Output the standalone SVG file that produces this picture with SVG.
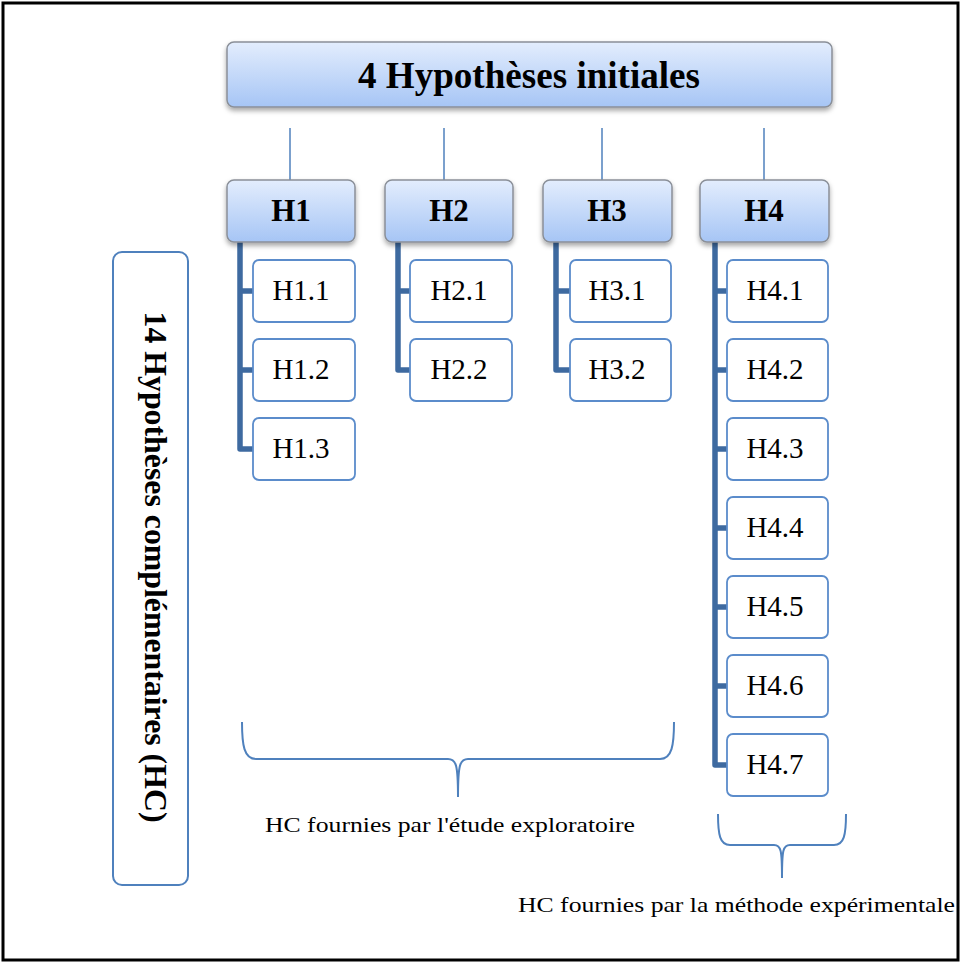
<svg xmlns="http://www.w3.org/2000/svg" width="962" height="964" viewBox="0 0 962 964">
<defs>
<linearGradient id="g" x1="0" y1="0" x2="0" y2="1">
<stop offset="0" stop-color="#e3edfd"/>
<stop offset="1" stop-color="#a6c5f5"/>
</linearGradient>
<filter id="sh" x="-10%" y="-20%" width="120%" height="150%">
<feDropShadow dx="0" dy="3" stdDeviation="2.5" flood-color="#000" flood-opacity="0.35"/>
</filter>
<style>
.hd{fill:url(#g);stroke:#8a8f98;stroke-width:1.5;filter:url(#sh)}
.ch{fill:#fff;stroke:#5b8ccb;stroke-width:1.8}
.tb{font-weight:bold;fill:#000;text-anchor:middle}
.tc{fill:#000;text-anchor:middle;font-size:29px}
.tn{fill:#000;font-size:22px}
.thin{stroke:#4f81bd;stroke-width:1.5;fill:none}
.thick{stroke:#3e6aa0;stroke-width:5.5;fill:none;stroke-linejoin:round}
.br{stroke:#4f81bd;stroke-width:2;fill:none}
</style>
</defs>
<rect x="3" y="3" width="955" height="957" fill="#fff" stroke="#000" stroke-width="3"/>

<g id="connectors">
<line class="thin" x1="290" y1="128" x2="290" y2="180"/>
<line class="thin" x1="444" y1="128" x2="444" y2="180"/>
<line class="thin" x1="602" y1="128" x2="602" y2="180"/>
<line class="thin" x1="764" y1="128" x2="764" y2="180"/>
<path class="thick" d="M240 242 V449 H253 M240 291 H253 M240 370 H253"/>
<path class="thick" d="M398 242 V370 H410 M398 291 H410"/>
<path class="thick" d="M556 242 V370 H570 M556 291 H570"/>
<path class="thick" d="M715 242 V765 H727 M715 291 H727 M715 370 H727 M715 449 H727 M715 528 H727 M715 607 H727 M715 686 H727"/>
</g>

<g font-family="Liberation Serif, Times New Roman, serif">
<g id="top">
<rect class="hd" x="227" y="42" width="605" height="65" rx="7"/>
<text class="tb" x="529" y="88" font-size="38" textLength="342" lengthAdjust="spacingAndGlyphs">4 Hypothèses initiales</text>
</g>

<g id="H1"><rect class="hd" x="227" y="180" width="128" height="62" rx="7"/><text class="tb" x="291" y="221" font-size="31">H1</text></g>
<g id="H2"><rect class="hd" x="385" y="180" width="128" height="62" rx="7"/><text class="tb" x="449" y="221" font-size="31">H2</text></g>
<g id="H3"><rect class="hd" x="543" y="180" width="129" height="62" rx="7"/><text class="tb" x="607" y="221" font-size="31">H3</text></g>
<g id="H4"><rect class="hd" x="700" y="180" width="129" height="62" rx="7"/><text class="tb" x="764" y="221" font-size="31">H4</text></g>

<g id="H1.1"><rect class="ch" x="253" y="260" width="102" height="62" rx="6"/><text class="tc" x="301" y="300">H1.1</text></g>
<g id="H1.2"><rect class="ch" x="253" y="339" width="102" height="62" rx="6"/><text class="tc" x="301" y="379">H1.2</text></g>
<g id="H1.3"><rect class="ch" x="253" y="418" width="102" height="62" rx="6"/><text class="tc" x="301" y="458">H1.3</text></g>

<g id="H2.1"><rect class="ch" x="410" y="260" width="102" height="62" rx="6"/><text class="tc" x="459" y="300">H2.1</text></g>
<g id="H2.2"><rect class="ch" x="410" y="339" width="102" height="62" rx="6"/><text class="tc" x="459" y="379">H2.2</text></g>

<g id="H3.1"><rect class="ch" x="570" y="260" width="101" height="62" rx="6"/><text class="tc" x="617" y="300">H3.1</text></g>
<g id="H3.2"><rect class="ch" x="570" y="339" width="101" height="62" rx="6"/><text class="tc" x="617" y="379">H3.2</text></g>

<g id="H4.1"><rect class="ch" x="727" y="260" width="101" height="62" rx="6"/><text class="tc" x="775" y="300">H4.1</text></g>
<g id="H4.2"><rect class="ch" x="727" y="339" width="101" height="62" rx="6"/><text class="tc" x="775" y="379">H4.2</text></g>
<g id="H4.3"><rect class="ch" x="727" y="418" width="101" height="62" rx="6"/><text class="tc" x="775" y="458">H4.3</text></g>
<g id="H4.4"><rect class="ch" x="727" y="497" width="101" height="62" rx="6"/><text class="tc" x="775" y="537">H4.4</text></g>
<g id="H4.5"><rect class="ch" x="727" y="576" width="101" height="62" rx="6"/><text class="tc" x="775" y="616">H4.5</text></g>
<g id="H4.6"><rect class="ch" x="727" y="655" width="101" height="62" rx="6"/><text class="tc" x="775" y="695">H4.6</text></g>
<g id="H4.7"><rect class="ch" x="727" y="734" width="101" height="62" rx="6"/><text class="tc" x="775" y="774">H4.7</text></g>

<g id="HC">
<rect x="113" y="252" width="75" height="633" rx="9" fill="#fff" stroke="#4f81bd" stroke-width="2"/>
<text class="tb" transform="translate(145,567) rotate(90)" x="0" y="0" font-size="32" textLength="511" lengthAdjust="spacingAndGlyphs">14 Hypothèses complémentaires  (HC)</text>
</g>

<g id="brace1">
<path class="br" d="M242 722 C242 745 244 759 256 759 H448 C456 759 458 764 458 797 C458 764 460 759 468 759 H660 C672 759 674 745 674 722"/>
<text class="tn" x="265" y="832" textLength="370" lengthAdjust="spacingAndGlyphs">HC fournies par l'étude exploratoire</text>
</g>

<g id="brace2">
<path class="br" d="M718 814 C718 835 720 845 730 845 H774 C781 845 782 850 782 878 C782 850 783 845 790 845 H834 C844 845 846 835 846 814"/>
<text class="tn" x="518" y="912" textLength="437" lengthAdjust="spacingAndGlyphs">HC fournies par la méthode expérimentale</text>
</g>
</g>
</svg>
